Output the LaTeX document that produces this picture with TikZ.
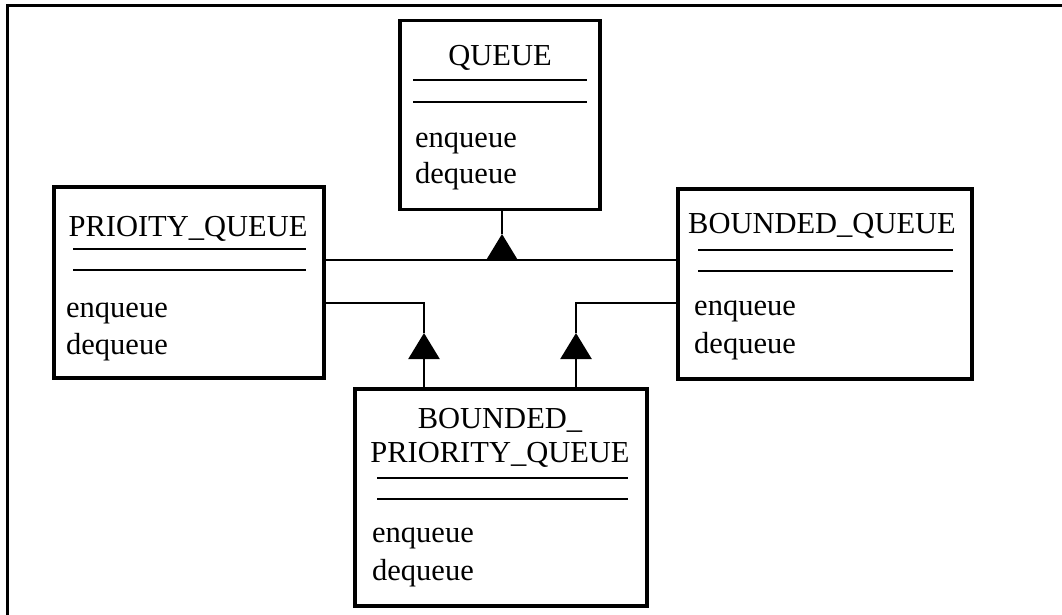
\documentclass[tikz,border=0pt]{standalone}
\usepackage{fontspec}
\setmainfont{Liberation Serif}
\usetikzlibrary{arrows.meta}
\begin{document}
\begin{tikzpicture}[x=1pt,y=-1pt,
  classbox/.style={draw, line width=3.2pt, inner sep=0pt, minimum width=#1},
  divider/.style={line width=2.6pt},
  txt/.style={inner sep=0pt, font=\fontsize{30.5}{36}\selectfont},
  wire/.style={line width=2.4pt},
  gen/.style={line width=2.4pt, -{Triangle[width=31pt,length=26pt]}}]
\useasboundingbox (0,0) rectangle (1062,615);

% outer frame (open on the right and bottom)
\draw[line width=3pt] (7,615) -- (7,6) -- (1062,6);

% QUEUE
\node[classbox=200pt, minimum height=189pt] (q) at (500,115) {};
\node[txt, anchor=base] (qt) at (500,66) {QUEUE};
\draw[divider] (413,80) -- (587,80);
\draw[divider] (413,102) -- (587,102);
\node[txt, anchor=base west] (qe) at (415,147) {enqueue};
\node[txt, anchor=base west] (qd) at (415,183) {dequeue};

% PRIOITY_QUEUE
\node[classbox=270pt, minimum height=191pt] (pq) at (189,282.5) {};
\node[txt, anchor=base] (pqt) at (188,236) {PRIOITY\_QUEUE};
\draw[divider] (73,249) -- (306,249);
\draw[divider] (73,270) -- (306,270);
\node[txt, anchor=base west] (pqe) at (66,317) {enqueue};
\node[txt, anchor=base west] (pqd) at (66,354) {dequeue};

% BOUNDED_QUEUE
\node[classbox=294pt, minimum height=190pt] (bq) at (825,284) {};
\node[txt, anchor=base] (bqt) at (822,233) {BOUNDED\_QUEUE};
\draw[divider] (698,250) -- (953,250);
\draw[divider] (698,271) -- (953,271);
\node[txt, anchor=base west] (bqe) at (694,315) {enqueue};
\node[txt, anchor=base west] (bqd) at (694,353) {dequeue};

% BOUNDED_PRIORITY_QUEUE
\node[classbox=292pt, minimum height=217pt] (bpq) at (501,497.5) {};
\node[txt, anchor=base] (bpqt1) at (500,428) {BOUNDED\_};
\node[txt, anchor=base] (bpqt2) at (500,462) {PRIORITY\_QUEUE};
\draw[divider] (377,478) -- (628,478);
\draw[divider] (377,499) -- (628,499);
\node[txt, anchor=base west] (bpqe) at (372,542) {enqueue};
\node[txt, anchor=base west] (bpqd) at (372,580) {dequeue};

% generalisation: PRIOITY_QUEUE and BOUNDED_QUEUE inherit from QUEUE
\coordinate (j0) at (502,260);
\coordinate (a0) at (502,234);
\draw[wire] (pq.east |- j0) -- (bq.west |- j0);
\draw[gen] (j0) -- (a0);
\draw[wire] (a0) -- (a0 |- q.south);

% generalisation: BOUNDED_PRIORITY_QUEUE inherits from both
\coordinate (a1) at (424,333);
\coordinate (k1) at (424,303);
\draw[gen] (bpq.north -| a1) -- (a1);
\draw[wire] (a1) -- (k1) -- (pq.east |- k1);

\coordinate (a2) at (576,333);
\coordinate (k2) at (576,303);
\draw[gen] (bpq.north -| a2) -- (a2);
\draw[wire] (a2) -- (k2) -- (bq.west |- k2);
\end{tikzpicture}
\end{document}
